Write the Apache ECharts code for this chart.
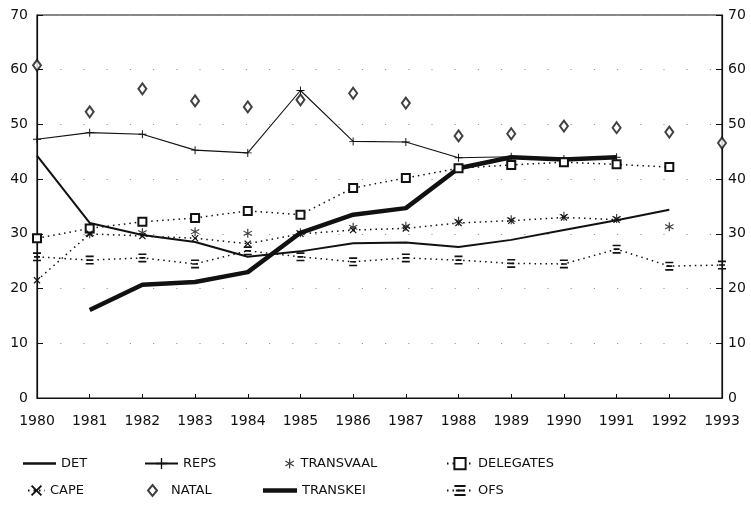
<!DOCTYPE html>
<html>
<head>
<meta charset="utf-8">
<script src="https://cdn.jsdelivr.net/npm/echarts@6/dist/echarts.min.js"></script>
<style>
  html, body { margin: 0; padding: 0; background: #fff; }
  #main { width: 751px; height: 527px; }
</style>
</head>
<body>
<div id="main"></div>
<script>
// years on the x axis
var years = [1980, 1981, 1982, 1983, 1984, 1985, 1986, 1987, 1988, 1989, 1990, 1991, 1992, 1993];
var yTicks = [0, 10, 20, 30, 40, 50, 60, 70];

// values (null = no point that year)
var det       = [44.3, 32.0, 29.8, 28.5, 25.8, 26.8, 28.3, 28.4, 27.6, 28.9, 30.7, 32.5, 34.4, null];
var reps      = [47.3, 48.5, 48.2, 45.3, 44.8, 56.2, 46.9, 46.8, 43.9, 44.1, 43.7, 44.0, null, null];
var transvaal = [null, 30.0, 30.2, 30.4, 30.1, 30.2, 31.2, 31.4, 32.3, 32.6, 33.2, 32.8, 31.3, null];
var delegates = [29.2, 31.0, 32.2, 32.9, 34.2, 33.5, 38.4, 40.2, 42.0, 42.6, 43.1, 42.7, 42.2, null];
var cape      = [21.5, 30.0, 29.6, 29.2, 28.2, 30.0, 30.7, 31.0, 32.0, 32.4, 33.0, 32.6, null, null];
var natal     = [60.8, 52.3, 56.5, 54.3, 53.2, 54.5, 55.7, 53.9, 47.9, 48.3, 49.7, 49.4, 48.6, 46.6];
var transkei  = [null, 16.1, 20.7, 21.2, 23.0, 30.2, 33.5, 34.7, 42.0, 44.0, 43.6, 44.0, null, null];
var ofs       = [25.8, 25.2, 25.6, 24.5, 26.9, 25.8, 24.9, 25.6, 25.2, 24.6, 24.5, 27.2, 24.1, 24.3];

function pairs(vals) {
  var out = [];
  for (var i = 0; i < years.length; i++) {
    if (vals[i] !== null) out.push([years[i], vals[i]]);
  }
  return out;
}

var ink = '#111';
var font = 'DejaVu Sans';
var dotted = [1.5, 4];

// marker shapes
var plusPath = 'path://M4.4,0h1.2v4.4h4.4v1.2h-4.4v4.4h-1.2v-4.4h-4.4v-1.2h4.4z';
var starPath = 'path://M4.4,0h1.2v3.9l3.3-1.9 0.6,1-3.3,1.9 3.3,1.9-0.6,1-3.3-1.9v3.9h-1.2v-3.9l-3.3,1.9-0.6-1 3.3-1.9-3.3-1.9 0.6-1 3.3,1.9z';
var crossPath = 'path://M0,1.2L1.2,0 5,3.8 8.8,0 10,1.2 6.2,5 10,8.8 8.8,10 5,6.2 1.2,10 0,8.8 3.8,5z';
var barsPath = 'path://M0,0h8v1.6h-8z M1,3.6h6v1.6h-6z M0,7.2h8v1.6h-8z';

function legendAt(item, left, top, w, h, pad) {
  return {
    data: [item], left: left, top: top,
    itemWidth: w, itemHeight: h || 14,
    textStyle: { fontFamily: font, fontSize: 13, color: ink, padding: [0, 0, 0, pad || 0] },
    selectedMode: false
  };
}

var chart = echarts.init(document.getElementById('main'));
chart.setOption({
  animation: false,
  backgroundColor: '#fff',
  grid: { left: 37, right: 29, top: 15, bottom: 129, show: true, borderColor: ink, borderWidth: 1.2 },
  legend: [
    legendAt({ name: 'DET', icon: 'rect' }, 18, 452, 33, 2.5),
    legendAt('REPS', 139, 452, 33),
    legendAt('TRANSVAAL', 280, 452, 12, 10),
    legendAt('DELEGATES', 441, 452, 26),
    legendAt('CAPE', 22, 479, 17),
    legendAt('NATAL', 142, 479, 9, 11, 9),
    legendAt({ name: 'TRANSKEI', icon: 'rect' }, 258, 479, 34, 4.5),
    legendAt('OFS', 441, 479, 26)
  ],
  xAxis: {
    type: 'value', min: years[0], max: years[years.length - 1], interval: 1,
    axisLine: { lineStyle: { color: ink, width: 1.2 } },
    axisTick: { inside: true, length: 4, lineStyle: { color: ink } },
    splitLine: { show: false },
    axisLabel: {
      margin: 16, fontFamily: font, fontSize: 14, color: ink,
      formatter: function (v) { return String(v); }
    }
  },
  yAxis: [{
    type: 'value', min: yTicks[0], max: yTicks[yTicks.length - 1], interval: 10,
    axisLine: { show: true, lineStyle: { color: ink, width: 1.2 } },
    axisTick: { show: true, inside: true, length: 6, lineStyle: { color: ink } },
    splitLine: { show: true, lineStyle: { color: '#999', width: 1, type: [1.2, 22] } },
    axisLabel: { margin: 9, fontFamily: font, fontSize: 14, color: ink }
  }, {
    type: 'value', position: 'right', min: yTicks[0], max: yTicks[yTicks.length - 1], interval: 10,
    axisLine: { show: true, lineStyle: { color: ink, width: 1.2 } },
    axisTick: { show: true, inside: true, length: 6, lineStyle: { color: ink } },
    splitLine: { show: false },
    axisLabel: { margin: 6, fontFamily: font, fontSize: 14, color: ink }
  }],
  series: [
    { name: 'DET', type: 'line', data: pairs(det), symbol: 'none',
      lineStyle: { color: ink, width: 2 }, itemStyle: { color: ink } },
    { name: 'REPS', type: 'line', data: pairs(reps), symbol: plusPath, symbolSize: 8,
      lineStyle: { color: ink, width: 1.1 }, itemStyle: { color: ink } },
    { name: 'TRANSVAAL', type: 'scatter', data: pairs(transvaal), symbol: starPath, symbolSize: 9,
      itemStyle: { color: ink } },
    { name: 'DELEGATES', type: 'line', data: pairs(delegates), symbol: 'emptyRect', symbolSize: 8,
      lineStyle: { color: ink, width: 1.5, type: dotted },
      itemStyle: { color: ink, borderWidth: 1.3 } },
    { name: 'CAPE', type: 'line', data: pairs(cape), symbol: crossPath, symbolSize: 7,
      lineStyle: { color: ink, width: 1.5, type: dotted }, itemStyle: { color: ink } },
    { name: 'NATAL', type: 'scatter', data: pairs(natal), symbol: 'emptyDiamond', symbolSize: [8, 11],
      itemStyle: { color: ink, borderWidth: 1.4 } },
    { name: 'TRANSKEI', type: 'line', data: pairs(transkei), symbol: 'none',
      lineStyle: { color: ink, width: 4.5 }, itemStyle: { color: ink } },
    { name: 'OFS', type: 'line', data: pairs(ofs), symbol: barsPath, symbolSize: [8, 9],
      lineStyle: { color: ink, width: 1.5, type: dotted }, itemStyle: { color: ink } }
  ]
});
</script>
</body>
</html>
